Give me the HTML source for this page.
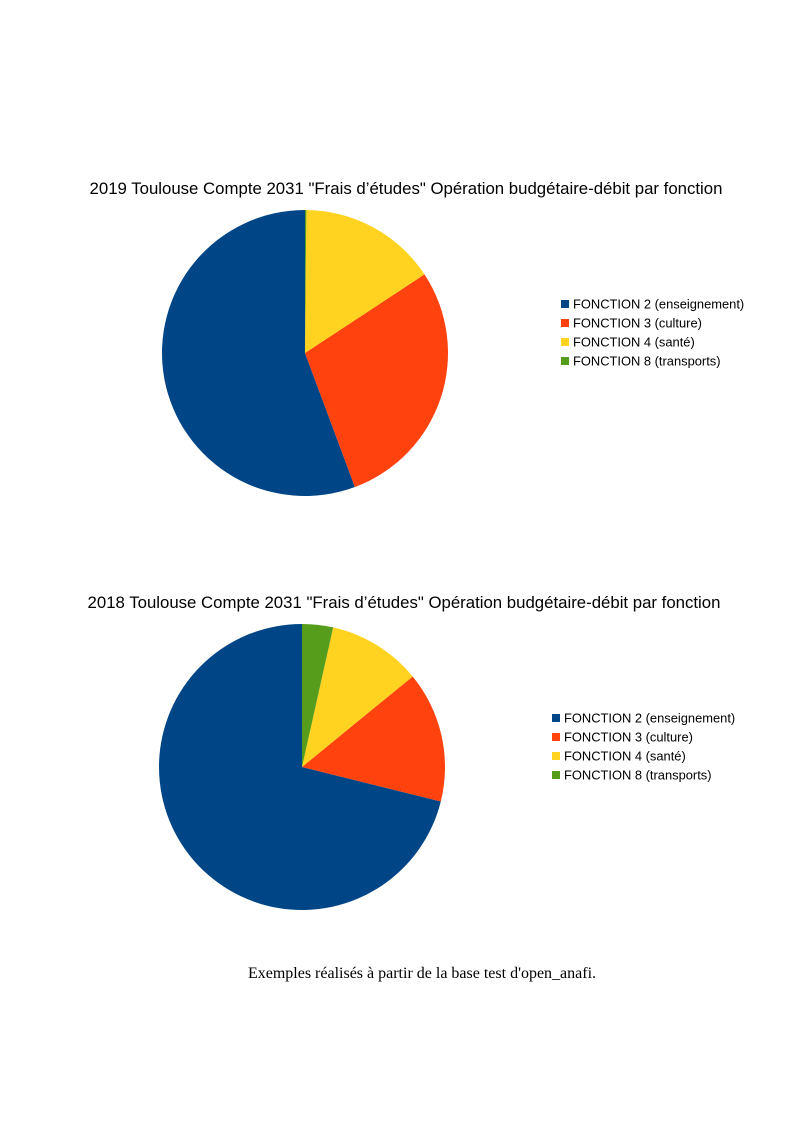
<!DOCTYPE html>
<html><head><meta charset="utf-8"><style>
body{margin:0;background:#fff;}
svg{display:block;}
</style></head><body>
<svg width="794" height="1123" font-family="Liberation Sans, sans-serif">
<g id="c1"></g>
<g id="c2"></g>
<text x="422" y="978" text-anchor="middle" font-family="Liberation Serif, serif" font-size="16" fill="#000">Exemples réalisés à partir de la base test d'open_anafi.</text>
</svg>
<script>
const categories = ["FONCTION 2 (enseignement)","FONCTION 3 (culture)","FONCTION 4 (santé)","FONCTION 8 (transports)"];
const colors = ["#004586","#ff420e","#ffd320","#579d1c"];
const values2019 = [55.7, 28.6, 15.6, 0.15];
const values2018 = [71.2, 14.8, 10.6, 3.5];
const titles = ['2019 Toulouse Compte 2031 "Frais d’études" Opération budgétaire-débit par fonction','2018 Toulouse Compte 2031 "Frais d’études" Opération budgétaire-débit par fonction'];
const NS="http://www.w3.org/2000/svg";
function draw(gid, vals, title, tx, ty, cx, cy, r, lx, ly){
  const g=document.getElementById(gid);
  const t=document.createElementNS(NS,'text');
  t.setAttribute('x',tx);t.setAttribute('y',ty);t.setAttribute('text-anchor','middle');t.setAttribute('font-size','16.8');
  t.textContent=title;
  
  
  g.appendChild(t);
  const total=vals.reduce((a,b)=>a+b,0);
  let a=0;
  vals.forEach((v,i)=>{
    const a2=a+v/total*2*Math.PI;
    const x1=cx-r*Math.sin(a), y1=cy-r*Math.cos(a);
    const x2=cx-r*Math.sin(a2), y2=cy-r*Math.cos(a2);
    const large=(a2-a)>Math.PI?1:0;
    const p=document.createElementNS(NS,'path');
    p.setAttribute('d',`M${cx},${cy} L${x1},${y1} A${r},${r} 0 ${large} 0 ${x2},${y2} Z`);
    p.setAttribute('fill',colors[i]);
    
    
    g.appendChild(p);
    a=a2;
  });
  categories.forEach((c,i)=>{
    const y=ly+i*19;
    const s=document.createElementNS(NS,'rect');
    s.setAttribute('x',lx);s.setAttribute('y',y-4);s.setAttribute('width',8);s.setAttribute('height',8);s.setAttribute('fill',colors[i]);
    
    
    g.appendChild(s);
    const tt=document.createElementNS(NS,'text');
    tt.setAttribute('x',lx+12);tt.setAttribute('y',y+4.5);tt.setAttribute('font-size','12.9');
    tt.textContent=c;
    
    
    g.appendChild(tt);
  });
}
draw('c1',values2019,titles[0],406,194,305,353,143,561,304);
draw('c2',values2018,titles[1],404,608,302,767,143,552,718);
</script>
</body></html>
